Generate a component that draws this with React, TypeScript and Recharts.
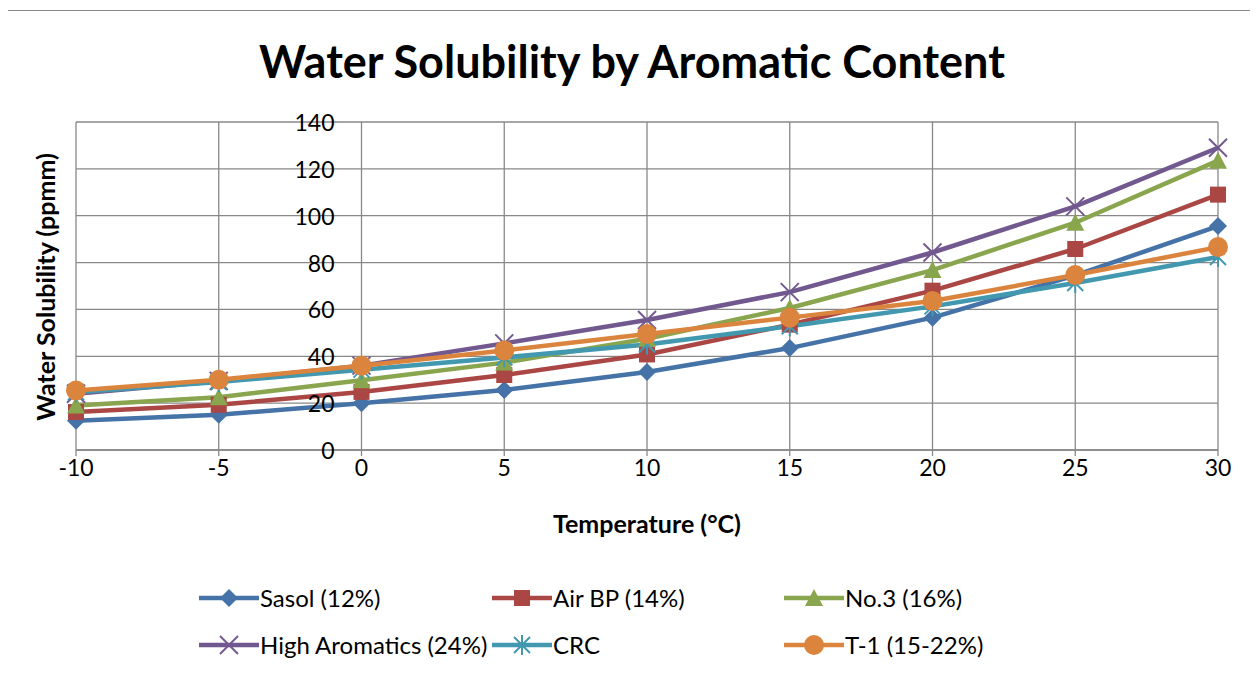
import { LineChart, Line, XAxis, YAxis, CartesianGrid } from "recharts";

const temperatures = [-10, -5, 0, 5, 10, 15, 20, 25, 30];
const sasol = [12.5, 15, 20, 25.6, 33.3, 43.5, 56.5, 74.5, 95.6];
const airBp = [16.2, 19.3, 24.8, 32, 40.8, 53.5, 68, 85.8, 109];
const no3 = [19, 22.5, 29.8, 37.3, 47.5, 60.6, 76.8, 97, 123.5];
const highAromatics = [24, 29.5, 36, 45.5, 55.5, 67.4, 84.3, 104, 129];
const crc = [24.7, 29, 34.3, 39.5, 45, 52.8, 61.3, 71.3, 82.4];
const t1 = [25.4, 30, 36, 42.5, 49.5, 56.5, 63.6, 74.7, 86.6];
const yTicks = [0, 20, 40, 60, 80, 100, 120, 140];

type Shape = "diamond" | "square" | "triangle" | "x" | "star" | "circle";

const SERIES: { key: string; name: string; color: string; shape: Shape; values: number[] }[] = [
  { key: "sasol", name: "Sasol (12%)", color: "#4572A7", shape: "diamond", values: sasol },
  { key: "airBp", name: "Air BP (14%)", color: "#AA4643", shape: "square", values: airBp },
  { key: "no3", name: "No.3 (16%)", color: "#89A54E", shape: "triangle", values: no3 },
  { key: "high", name: "High Aromatics (24%)", color: "#71588F", shape: "x", values: highAromatics },
  { key: "crc", name: "CRC", color: "#4198AF", shape: "star", values: crc },
  { key: "t1", name: "T-1 (15-22%)", color: "#DB843D", shape: "circle", values: t1 },
];

const data = temperatures.map((t, i) => {
  const row: Record<string, number> = { t };
  SERIES.forEach((s) => (row[s.key] = s.values[i]));
  return row;
});

const FONT = "Lato, 'Open Sans', sans-serif";
const GRID = "#888888";
const W = 1250;
const H = 560;
const Y_W = 60;
const MARGIN = { top: 111, right: 39, left: 69 - Y_W, bottom: 91 };
const PLOT_W = W - 69 - MARGIN.right;
const ZERO_X = 69 + (PLOT_W * 10) / 40;

function Marker({ shape, cx, cy, color }: { shape: Shape; cx: number; cy: number; color: string }) {
  switch (shape) {
    case "diamond":
      return <polygon points={`${cx},${cy - 9} ${cx + 9},${cy} ${cx},${cy + 9} ${cx - 9},${cy}`} fill={color} />;
    case "square":
      return <rect x={cx - 8} y={cy - 8} width={16} height={16} fill={color} />;
    case "triangle":
      return <polygon points={`${cx},${cy - 9} ${cx + 9},${cy + 8} ${cx - 9},${cy + 8}`} fill={color} />;
    case "x":
      return (
        <g stroke={color} strokeWidth={2}>
          <line x1={cx - 9} y1={cy - 9} x2={cx + 9} y2={cy + 9} />
          <line x1={cx - 9} y1={cy + 9} x2={cx + 9} y2={cy - 9} />
        </g>
      );
    case "star":
      return (
        <g stroke={color} strokeWidth={2}>
          <line x1={cx - 8} y1={cy - 8} x2={cx + 8} y2={cy + 8} />
          <line x1={cx - 8} y1={cy + 8} x2={cx + 8} y2={cy - 8} />
          <line x1={cx} y1={cy - 10} x2={cx} y2={cy + 10} />
        </g>
      );
    default:
      return <circle cx={cx} cy={cy} r={10} fill={color} />;
  }
}

const renderYTick = (props: any) => (
  <text
    key={`yt-${props.payload.value}`}
    x={ZERO_X - 27}
    y={props.y}
    textAnchor="end"
    dominantBaseline="central"
    fontFamily={FONT}
    fontSize={23}
    fill="#000"
  >
    {props.payload.value}
  </text>
);

const legendPos = [
  { left: 191, top: 572 },
  { left: 484, top: 572 },
  { left: 776, top: 572 },
  { left: 191, top: 619 },
  { left: 484, top: 619 },
  { left: 776, top: 619 },
];

export default function App() {
  return (
    <div
      style={{
        position: "relative",
        top: 2,
        left: -3,
        width: 1256,
        height: 665,
        boxSizing: "border-box",
        borderLeft: "2px solid #8a8a8a",
        borderTop: "1px solid #8a8a8a",
        fontFamily: FONT,
        background: "#fff",
      }}
    >
      <div
        style={{
          position: "absolute",
          left: 0,
          width: 1250,
          top: 24,
          textAlign: "center",
          fontSize: 45,
          fontWeight: 700,
          lineHeight: "52px",
        }}
      >
        Water Solubility by Aromatic Content
      </div>
      <LineChart width={W} height={H} data={data} margin={MARGIN}>
        <CartesianGrid stroke={GRID} strokeWidth={1.3} />
        <XAxis
          dataKey="t"
          type="number"
          domain={[-10, 30]}
          ticks={temperatures}
          stroke={GRID}
          strokeWidth={1.3}
          tickSize={6}
          tickMargin={4}
          height={30}
          tick={{ fill: "#000", fontSize: 23, fontFamily: FONT }}
        />
        <YAxis
          domain={[0, 140]}
          ticks={yTicks}
          width={Y_W}
          axisLine={false}
          tickLine={false}
          tick={renderYTick}
          interval={0}
        />
        {SERIES.map((s) => (
          <Line
            key={s.key}
            dataKey={s.key}
            name={s.name}
            stroke={s.color}
            strokeWidth={4.5}
            isAnimationActive={false}
            dot={(p: any) => <Marker key={`${s.key}-${p.index}`} shape={s.shape} cx={p.cx} cy={p.cy} color={s.color} />}
            activeDot={false}
          />
        ))}
      </LineChart>
      <div
        style={{
          position: "absolute",
          left: 640 - 200,
          width: 400,
          top: 497,
          textAlign: "center",
          fontSize: 25,
          fontWeight: 700,
          lineHeight: "30px",
        }}
      >
        Temperature (°C)
      </div>
      <div
        style={{
          position: "absolute",
          left: 38 - 200,
          top: 276 - 15,
          width: 400,
          textAlign: "center",
          fontSize: 25,
          fontWeight: 700,
          lineHeight: "30px",
          transform: "rotate(-90deg)",
        }}
      >
        Water Solubility (ppmm)
      </div>
      {SERIES.map((s, i) => (
        <div
          key={s.key}
          style={{
            position: "absolute",
            left: legendPos[i].left,
            top: legendPos[i].top,
            display: "flex",
            alignItems: "center",
            fontSize: 24,
            lineHeight: "30px",
            whiteSpace: "nowrap",
          }}
        >
          <svg width={62} height={30} style={{ display: "block" }}>
            <line x1={1} y1={15} x2={61} y2={15} stroke={s.color} strokeWidth={4.5} />
            <Marker shape={s.shape} cx={31} cy={15} color={s.color} />
          </svg>
          <span>{s.name}</span>
        </div>
      ))}
    </div>
  );
}
